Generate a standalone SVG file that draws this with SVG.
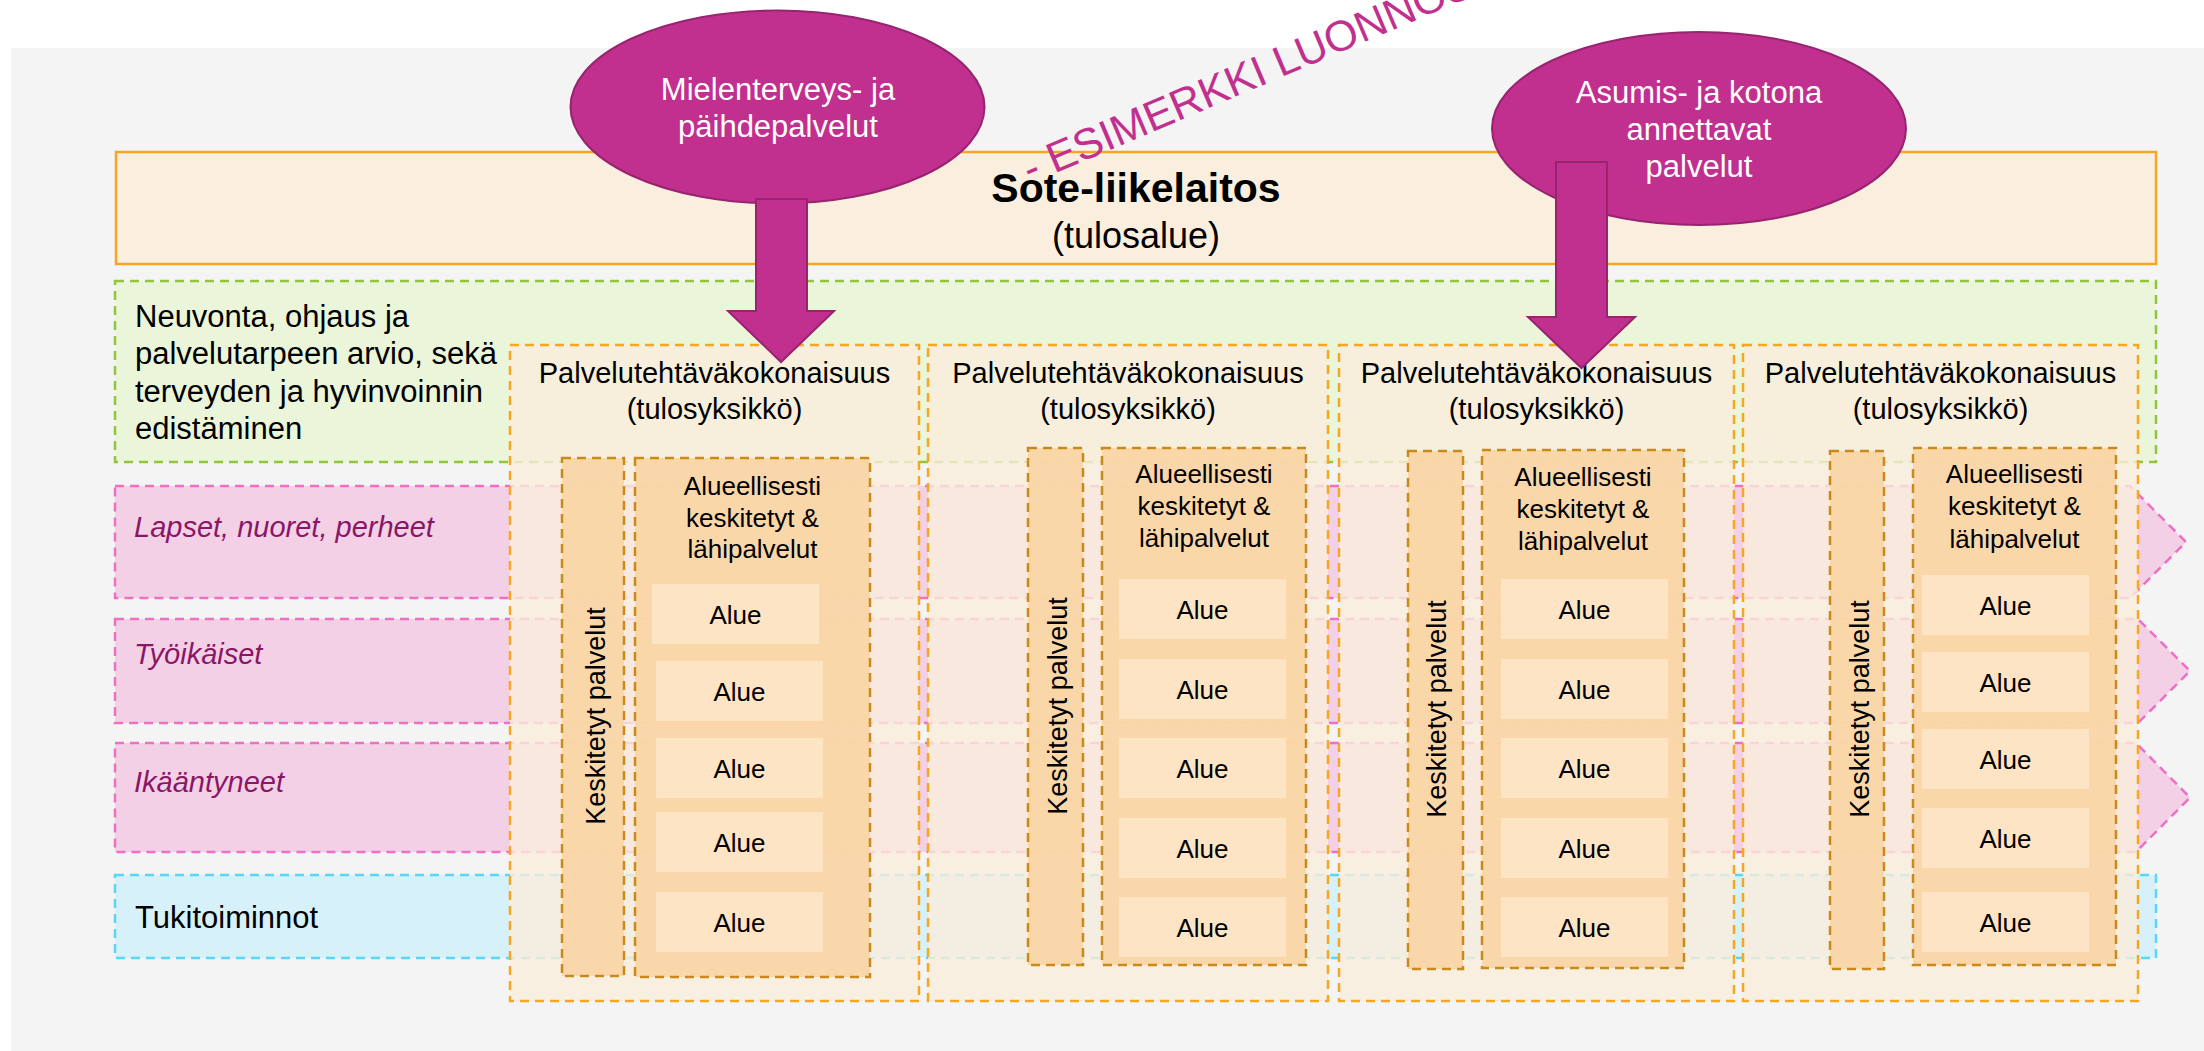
<svg xmlns="http://www.w3.org/2000/svg" width="2204" height="1051" viewBox="0 0 2204 1051">
<defs>
<style>
text { font-family: "Liberation Sans", Arial, Helvetica, sans-serif; fill:#000; }
.bg { fill:#F4F4F4; }
.sote { fill:#FAEEDE; stroke:#F5A623; stroke-width:2.5; }
.green { fill:#EAF5DA; stroke:#8FC63D; stroke-width:2.5; stroke-dasharray:9 6; }
.lane { fill:#F4D0E6; stroke:#EE6FC3; stroke-width:2.5; stroke-dasharray:9 6; }
.blue { fill:#D6F1F9; stroke:#5AD6F6; stroke-width:2.5; stroke-dasharray:9 6; }
.unit { fill:#FAEEDB; fill-opacity:0.8; stroke:#F5A623; stroke-width:2.5; stroke-dasharray:9 6; }
.col { fill:#F9D4A2; fill-opacity:0.88; stroke:#C98A1C; stroke-width:2.5; stroke-dasharray:9 6; }
.alue { fill:#FDE6C8; fill-opacity:0.9; }
.mag { fill:#C1308F; stroke:#97246F; stroke-width:2; }
.t-big { font-size:31px; }
.t-white { fill:#FFFFFF; font-size:31px; text-anchor:middle; }
.t-lane { fill:#8A1766; font-size:29px; font-style:italic; }
.t-unit { font-size:29px; text-anchor:middle; }
.t-ae { font-size:26px; text-anchor:middle; }
.t-kesk { font-size:27px; text-anchor:middle; }
.wm { fill:#C1308F; font-size:43px; }
</style>
</defs>

<rect class="bg" x="11" y="48" width="2193" height="1003"/>

<g id="sote">
<rect class="sote" x="116" y="152" width="2040" height="112"/>
<text x="1136" y="202" text-anchor="middle" font-size="41" font-weight="bold">Sote-liikelaitos</text>
<text x="1136" y="248" text-anchor="middle" font-size="36">(tulosalue)</text>
</g>

<g id="neuvonta">
<rect class="green" x="115" y="281" width="2041" height="181"/>
<text class="t-big" x="135" y="326.5">Neuvonta, ohjaus ja</text>
<text class="t-big" x="135" y="364">palvelutarpeen arvio, sekä</text>
<text class="t-big" x="135" y="401.5">terveyden ja hyvinvoinnin</text>
<text class="t-big" x="135" y="439">edistäminen</text>
</g>

<g id="lane-lapset">
<path class="lane" d="M115,486 H2130 L2186,542 L2130,598 H115 Z"/>
<text class="t-lane" x="134" y="537">Lapset, nuoret, perheet</text>
</g>
<g id="lane-tyoikaiset">
<path class="lane" d="M115,619 H2138 L2190,671 L2138,723 H115 Z"/>
<text class="t-lane" x="134" y="664">Työikäiset</text>
</g>
<g id="lane-ikaantyneet">
<path class="lane" d="M115,743 H2136 L2190,797.5 L2136,852 H115 Z"/>
<text class="t-lane" x="134" y="792">Ikääntyneet</text>
</g>

<g id="tukitoiminnot">
<rect class="blue" x="115" y="875" width="2041" height="83"/>
<text class="t-big" x="135" y="928">Tukitoiminnot</text>
</g>

<g id="unit1">
<rect class="unit" x="510" y="345" width="409" height="656"/>
<text class="t-unit" x="714.5" y="383">Palvelutehtäväkokonaisuus</text>
<text class="t-unit" x="714.5" y="419">(tulosyksikkö)</text>
<rect class="col" x="562" y="458" width="62" height="518"/>
<text class="t-kesk" transform="translate(605,716) rotate(-90)">Keskitetyt palvelut</text>
<rect class="col" x="635" y="458" width="235" height="519"/>
<text class="t-ae" x="752.5" y="495">Alueellisesti</text>
<text class="t-ae" x="752.5" y="527">keskitetyt &amp;</text>
<text class="t-ae" x="752.5" y="558">lähipalvelut</text>
<rect class="alue" x="652" y="584" width="167" height="60"/>
<text class="t-ae" x="735.5" y="623.5">Alue</text>
<rect class="alue" x="656" y="661" width="167" height="60"/>
<text class="t-ae" x="739.5" y="700.5">Alue</text>
<rect class="alue" x="656" y="738" width="167" height="60"/>
<text class="t-ae" x="739.5" y="777.5">Alue</text>
<rect class="alue" x="656" y="812" width="167" height="60"/>
<text class="t-ae" x="739.5" y="851.5">Alue</text>
<rect class="alue" x="656" y="892" width="167" height="60"/>
<text class="t-ae" x="739.5" y="931.5">Alue</text>
</g>

<g id="unit2">
<rect class="unit" x="928" y="345" width="400" height="656"/>
<text class="t-unit" x="1128" y="383">Palvelutehtäväkokonaisuus</text>
<text class="t-unit" x="1128" y="419">(tulosyksikkö)</text>
<rect class="col" x="1028" y="448" width="55" height="517"/>
<text class="t-kesk" transform="translate(1067,706) rotate(-90)">Keskitetyt palvelut</text>
<rect class="col" x="1102" y="448" width="204" height="517"/>
<text class="t-ae" x="1204" y="483">Alueellisesti</text>
<text class="t-ae" x="1204" y="515">keskitetyt &amp;</text>
<text class="t-ae" x="1204" y="547">lähipalvelut</text>
<rect class="alue" x="1119" y="579" width="167" height="60"/>
<text class="t-ae" x="1202.5" y="618.5">Alue</text>
<rect class="alue" x="1119" y="659" width="167" height="60"/>
<text class="t-ae" x="1202.5" y="698.5">Alue</text>
<rect class="alue" x="1119" y="738" width="167" height="60"/>
<text class="t-ae" x="1202.5" y="777.5">Alue</text>
<rect class="alue" x="1119" y="818" width="167" height="60"/>
<text class="t-ae" x="1202.5" y="857.5">Alue</text>
<rect class="alue" x="1119" y="897" width="167" height="60"/>
<text class="t-ae" x="1202.5" y="936.5">Alue</text>
</g>

<g id="unit3">
<rect class="unit" x="1339" y="345" width="395" height="656"/>
<text class="t-unit" x="1536.5" y="383">Palvelutehtäväkokonaisuus</text>
<text class="t-unit" x="1536.5" y="419">(tulosyksikkö)</text>
<rect class="col" x="1408" y="451" width="55" height="518"/>
<text class="t-kesk" transform="translate(1446,709) rotate(-90)">Keskitetyt palvelut</text>
<rect class="col" x="1482" y="450" width="202" height="518"/>
<text class="t-ae" x="1583" y="486">Alueellisesti</text>
<text class="t-ae" x="1583" y="518">keskitetyt &amp;</text>
<text class="t-ae" x="1583" y="550">lähipalvelut</text>
<rect class="alue" x="1501" y="579" width="167" height="60"/>
<text class="t-ae" x="1584.5" y="618.5">Alue</text>
<rect class="alue" x="1501" y="659" width="167" height="60"/>
<text class="t-ae" x="1584.5" y="698.5">Alue</text>
<rect class="alue" x="1501" y="738" width="167" height="60"/>
<text class="t-ae" x="1584.5" y="777.5">Alue</text>
<rect class="alue" x="1501" y="818" width="167" height="60"/>
<text class="t-ae" x="1584.5" y="857.5">Alue</text>
<rect class="alue" x="1501" y="897" width="167" height="60"/>
<text class="t-ae" x="1584.5" y="936.5">Alue</text>
</g>

<g id="unit4">
<rect class="unit" x="1743" y="345" width="395" height="656"/>
<text class="t-unit" x="1940.5" y="383">Palvelutehtäväkokonaisuus</text>
<text class="t-unit" x="1940.5" y="419">(tulosyksikkö)</text>
<rect class="col" x="1830" y="451" width="54" height="518"/>
<text class="t-kesk" transform="translate(1869,709) rotate(-90)">Keskitetyt palvelut</text>
<rect class="col" x="1913" y="448" width="203" height="517"/>
<text class="t-ae" x="2014.5" y="483">Alueellisesti</text>
<text class="t-ae" x="2014.5" y="515">keskitetyt &amp;</text>
<text class="t-ae" x="2014.5" y="548">lähipalvelut</text>
<rect class="alue" x="1922" y="575" width="167" height="60"/>
<text class="t-ae" x="2005.5" y="614.5">Alue</text>
<rect class="alue" x="1922" y="652" width="167" height="60"/>
<text class="t-ae" x="2005.5" y="691.5">Alue</text>
<rect class="alue" x="1922" y="729" width="167" height="60"/>
<text class="t-ae" x="2005.5" y="768.5">Alue</text>
<rect class="alue" x="1922" y="808" width="167" height="60"/>
<text class="t-ae" x="2005.5" y="847.5">Alue</text>
<rect class="alue" x="1922" y="892" width="167" height="60"/>
<text class="t-ae" x="2005.5" y="931.5">Alue</text>
</g>

<g id="mielenterveys">
<ellipse class="mag" cx="777.5" cy="107" rx="207" ry="96.5"/>
<text class="t-white" x="778" y="100">Mielenterveys- ja</text>
<text class="t-white" x="778" y="137">päihdepalvelut</text>
</g>

<g id="asuminen">
<ellipse class="mag" cx="1699" cy="128.5" rx="207" ry="96.5"/>
<text class="t-white" x="1699" y="103">Asumis- ja kotona</text>
<text class="t-white" x="1699" y="140">annettavat</text>
<text class="t-white" x="1699" y="177">palvelut</text>
</g>

<g id="connectors">
<path class="mag" d="M756,199 H807 V311 H834 L781,362 L728,311 H756 Z"/>
<path class="mag" d="M1556,162 H1607 V317 H1635 L1581.5,368 L1528,317 H1556 Z"/>
</g>

<text class="wm" transform="translate(1030,184) rotate(-23)">- ESIMERKKI LUONNOS -</text>
</svg>
